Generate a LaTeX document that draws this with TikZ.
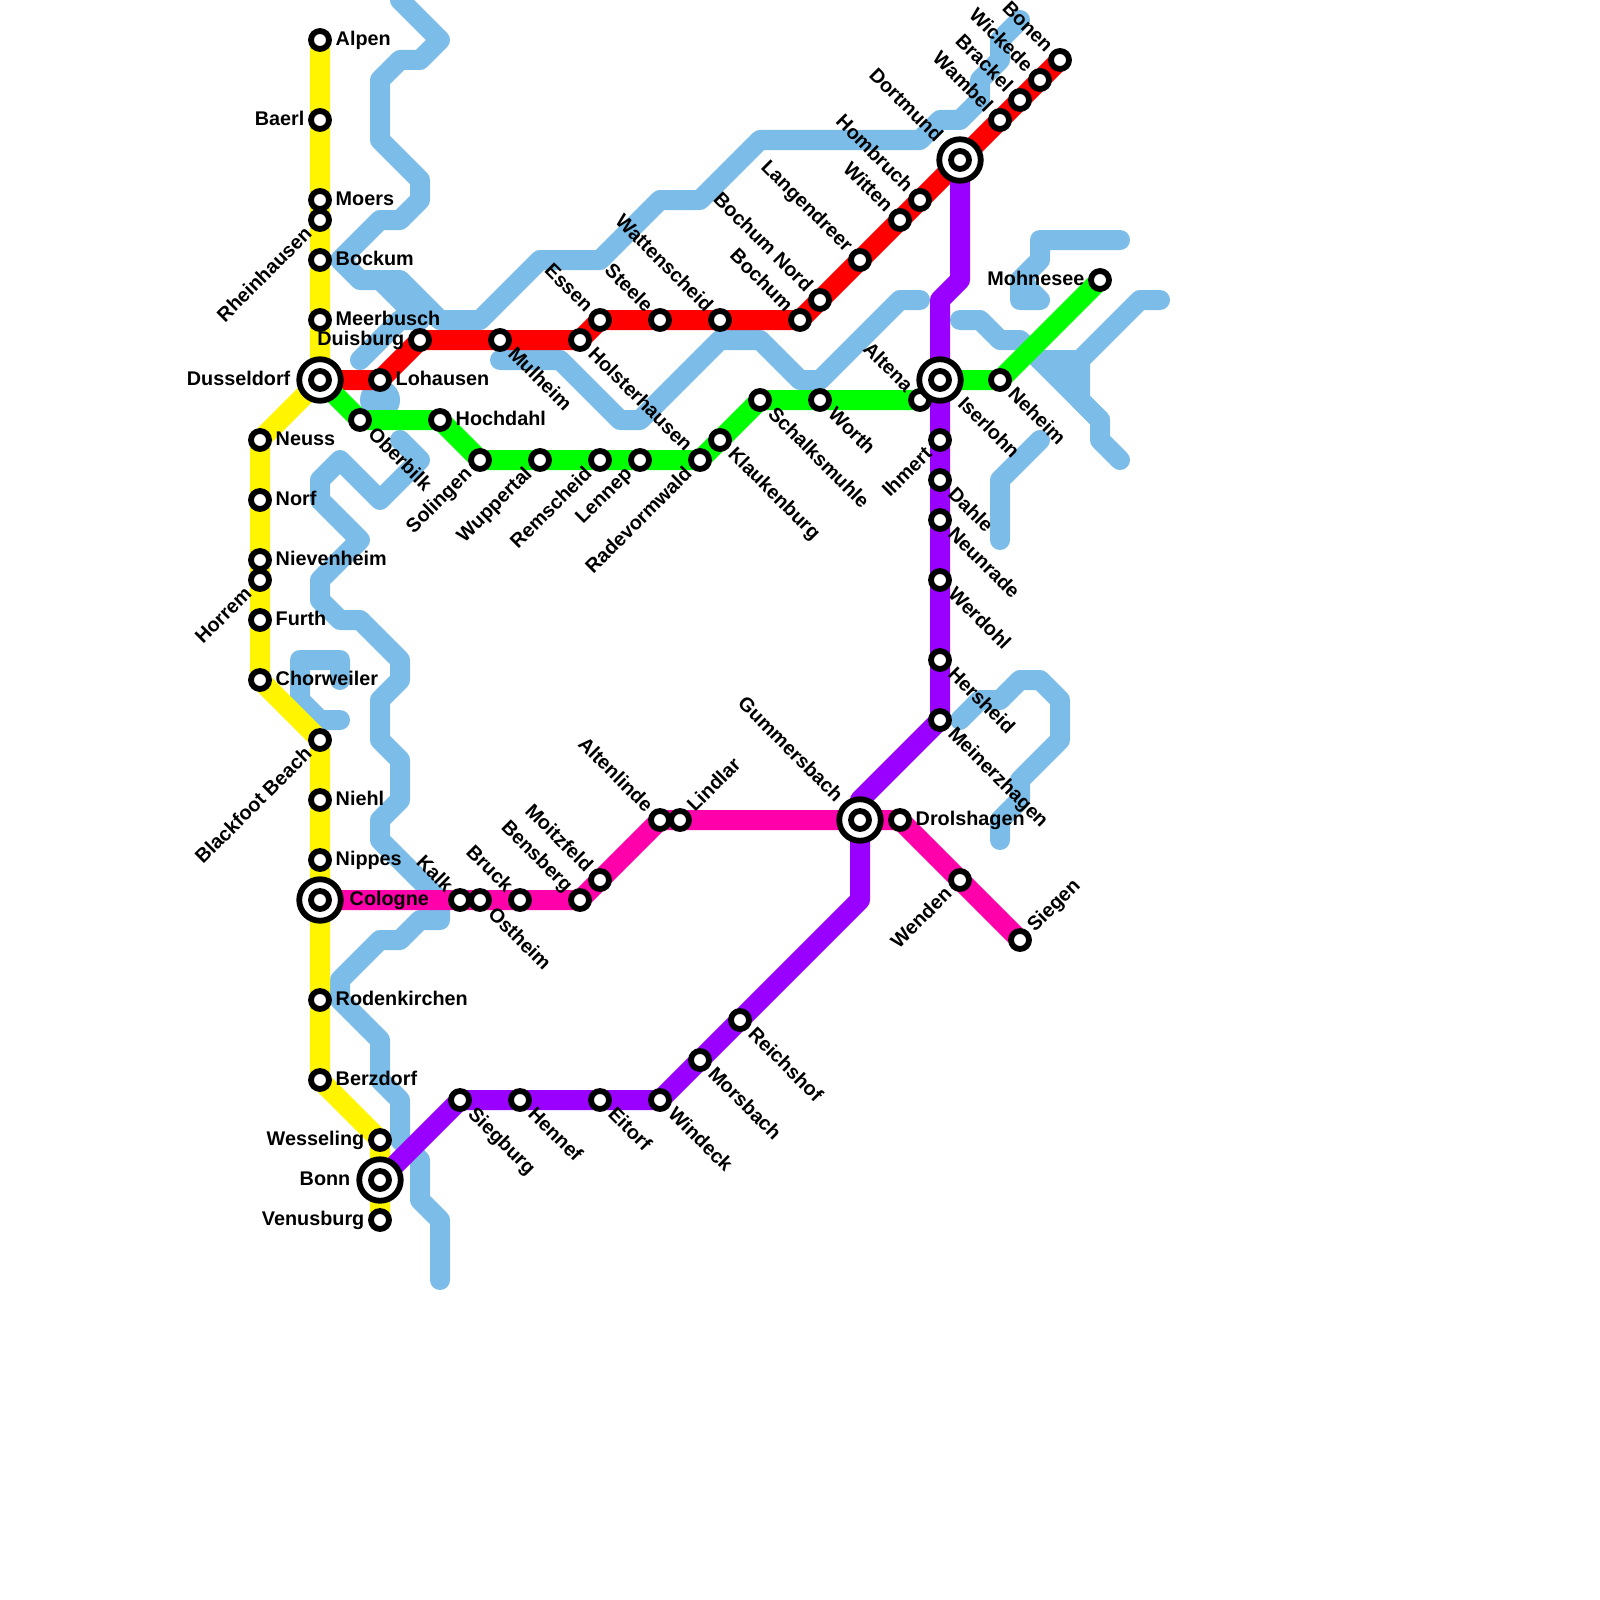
\documentclass[tikz,border=0pt]{standalone}
\usepackage{fontspec}
\setmainfont{Liberation Sans}
\pgfdeclarelayer{waterlayer}
\pgfdeclarelayer{linelayer}
\pgfsetlayers{waterlayer,linelayer,main}
\definecolor{waterc}{HTML}{7BBDE8}
\definecolor{lyellow}{HTML}{FFF500}
\definecolor{lred}{HTML}{FF0000}
\definecolor{lgreen}{HTML}{00FF00}
\definecolor{lpurple}{HTML}{9900FF}
\definecolor{lpink}{HTML}{FF00AA}
\tikzset{
  x=1pt,y=-1pt,
  water/.style={draw=waterc,line width=20pt,line cap=round,line join=round},
  metro/.style={line width=20pt,line cap=round,line join=round},
  station/.style={circle,draw=black,fill=white,line width=5.8pt,minimum size=18pt,inner sep=0pt},
  bigring/.style={circle,draw=black,fill=white,line width=5.8pt,minimum size=41.5pt,inner sep=0pt},
  lab/.style={font=\fontsize{19.8}{22}\selectfont\bfseries,inner sep=0pt,text=black},
  lR/.style={lab,anchor=base west,xshift=#1,yshift=-5.7pt},
  lL/.style={lab,anchor=base east,xshift=-#1,yshift=-5.7pt},
  lDR/.style={lab,rotate=-45,anchor=base west,xshift=#1,yshift=-5.7pt},
  lUL/.style={lab,rotate=-45,anchor=base east,xshift=-#1,yshift=-5.7pt},
  lUR/.style={lab,rotate=45,anchor=base west,xshift=#1,yshift=-5.7pt},
  lDL/.style={lab,rotate=45,anchor=base east,xshift=-#1,yshift=-5.7pt},
}
\newcommand{\stn}[5]{\node[station] (#1) at (#2,#3) {}; \node[#4=15.5pt] (#1-l) at (#1) {#5};}
\newcommand{\hub}[5]{\node[bigring] (#1-r) at (#2,#3) {}; \node[station] (#1) at (#2,#3) {}; \node[#4=29.5pt] (#1-l) at (#1) {#5};}
\begin{document}
\begin{tikzpicture}
\useasboundingbox (0,0) rectangle (1600,1600);
% stations: yellow
\stn{alpen}{320}{40}{lR}{Alpen}
\stn{baerl}{320}{120}{lL}{Baerl}
\stn{moers}{320}{200}{lR}{Moers}
\stn{rhein}{320}{220}{lDL}{Rheinhausen}
\stn{bockum}{320}{260}{lR}{Bockum}
\stn{meer}{320}{320}{lR}{Meerbusch}
\hub{duss}{320}{380}{lL}{Dusseldorf}
\stn{neuss}{260}{440}{lR}{Neuss}
\stn{norf}{260}{500}{lR}{Norf}
\stn{niev}{260}{560}{lR}{Nievenheim}
\stn{horrem}{260}{580}{lDL}{Horrem}
\stn{furth}{260}{620}{lR}{Furth}
\stn{chor}{260}{680}{lR}{Chorweiler}
\stn{black}{320}{740}{lDL}{Blackfoot Beach}
\stn{niehl}{320}{800}{lR}{Niehl}
\stn{nippes}{320}{860}{lR}{Nippes}
\hub{cologne}{320}{900}{lR}{Cologne}
\stn{roden}{320}{1000}{lR}{Rodenkirchen}
\stn{berz}{320}{1080}{lR}{Berzdorf}
\stn{wess}{380}{1140}{lL}{Wesseling}
\hub{bonn}{380}{1180}{lL}{Bonn}
\stn{venus}{380}{1220}{lL}{Venusburg}
% red
\stn{lohausen}{380}{380}{lR}{Lohausen}
\stn{duisburg}{420}{340}{lL}{Duisburg}
\stn{mulheim}{500}{340}{lDR}{Mulheim}
\stn{holster}{580}{340}{lDR}{Holsterhausen}
\stn{essen}{600}{320}{lUL}{Essen}
\stn{steele}{660}{320}{lUL}{Steele}
\stn{watten}{720}{320}{lUL}{Wattenscheid}
\stn{bochum}{800}{320}{lUL}{Bochum}
\stn{bochumn}{820}{300}{lUL}{Bochum Nord}
\stn{langen}{860}{260}{lUL}{Langendreer}
\stn{witten}{900}{220}{lUL}{Witten}
\stn{hombruch}{920}{200}{lUL}{Hombruch}
\hub{dortmund}{960}{160}{lUL}{Dortmund}
\stn{wambel}{1000}{120}{lUL}{Wambel}
\stn{brackel}{1020}{100}{lUL}{Brackel}
\stn{wickede}{1040}{80}{lUL}{Wickede}
\stn{bonen}{1060}{60}{lUL}{Bonen}
% green
\stn{oberbilk}{360}{420}{lDR}{Oberbilk}
\stn{hochdahl}{440}{420}{lR}{Hochdahl}
\stn{solingen}{480}{460}{lDL}{Solingen}
\stn{wupper}{540}{460}{lDL}{Wuppertal}
\stn{rems}{600}{460}{lDL}{Remscheid}
\stn{lennep}{640}{460}{lDL}{Lennep}
\stn{rade}{700}{460}{lDL}{Radevormwald}
\stn{klauk}{720}{440}{lDR}{Klaukenburg}
\stn{schalk}{760}{400}{lDR}{Schalksmuhle}
\stn{worth}{820}{400}{lDR}{Worth}
\stn{altena}{920}{400}{lUL}{Altena}
\hub{iser}{940}{380}{lDR}{Iserlohn}
\stn{neheim}{1000}{380}{lDR}{Neheim}
\stn{mohne}{1100}{280}{lL}{Mohnesee}
% purple
\stn{ihmert}{940}{440}{lDL}{Ihmert}
\stn{dahle}{940}{480}{lDR}{Dahle}
\stn{neun}{940}{520}{lDR}{Neunrade}
\stn{werdohl}{940}{580}{lDR}{Werdohl}
\stn{hers}{940}{660}{lDR}{Hersheid}
\stn{meiner}{940}{720}{lDR}{Meinerzhagen}
\hub{gummers}{860}{820}{lUL}{Gummersbach}
\stn{reichs}{740}{1020}{lDR}{Reichshof}
\stn{morsb}{700}{1060}{lDR}{Morsbach}
\stn{windeck}{660}{1100}{lDR}{Windeck}
\stn{eitorf}{600}{1100}{lDR}{Eitorf}
\stn{hennef}{520}{1100}{lDR}{Hennef}
\stn{siegb}{460}{1100}{lDR}{Siegburg}
% pink
\stn{kalk}{460}{900}{lUL}{Kalk}
\stn{ostheim}{480}{900}{lDR}{Ostheim}
\stn{bruck}{520}{900}{lUL}{Bruck}
\stn{bensb}{580}{900}{lUL}{Bensberg}
\stn{moitz}{600}{880}{lUL}{Moitzfeld}
\stn{altenl}{660}{820}{lUL}{Altenlinde}
\stn{lindlar}{680}{820}{lUR}{Lindlar}
\stn{drol}{900}{820}{lR}{Drolshagen}
\stn{wenden}{960}{880}{lDL}{Wenden}
\stn{siegen}{1020}{940}{lUR}{Siegen}
\coordinate (pb1) at (960,280);
\coordinate (pb2) at (940,300);
\coordinate (pb0) at (860,800);
\coordinate (pb3) at (860,900);
\begin{pgfonlayer}{waterlayer}
\draw[water] (400,0) -- (440,40) -- (420,60) -- (400,60) -- (380,80) -- (380,140) -- (420,180) -- (420,200) -- (400,220) -- (380,220) -- (340,260) -- (360,280) -- (400,280) -- (440,320) -- (480,320) -- (540,260) -- (600,260) -- (660,200) -- (700,200) -- (760,140) -- (920,140) -- (940,120) -- (960,120) -- (980,100) -- (980,80) -- (1000,60) -- (1000,40) -- (1020,20);
\draw[water] (380,280) -- (420,320) -- (400,320) -- (360,360);
\fill[waterc] (380,400) circle[radius=20];
\draw[water] (500,360) -- (560,360) -- (620,420) -- (640,420) -- (720,340) -- (760,340) -- (800,380) -- (820,380) -- (900,300) -- (920,300);
\draw[water] (400,440) -- (420,460) -- (380,500) -- (340,460) -- (320,480) -- (320,500) -- (360,540) -- (320,580) -- (320,600) -- (340,620) -- (360,620) -- (400,660) -- (400,680) -- (380,700) -- (380,740) -- (400,760) -- (400,800) -- (380,820) -- (380,840) -- (440,900) -- (440,920) -- (420,920) -- (400,940) -- (380,940) -- (340,980) -- (340,1000) -- (380,1040) -- (380,1080) -- (400,1100) -- (400,1140) -- (420,1160) -- (420,1200) -- (440,1220) -- (440,1280);
\draw[water] (340,680) -- (340,660) -- (300,660) -- (300,700) -- (320,720) -- (340,720);
\draw[water] (1120,240) -- (1040,240) -- (1040,260) -- (1020,280) -- (1020,300) -- (1040,300) -- (1020,280);
\draw[water] (960,320) -- (980,320) -- (1000,340) -- (1020,340) -- (1040,360) -- (1080,360) -- (1140,300) -- (1160,300);
\draw[water] (1040,360) -- (1100,420) -- (1100,440) -- (1120,460);
\draw[water] (1080,360) -- (1080,400) -- (1100,420);
\fill[waterc] (1040,360) -- (1080,360) -- (1080,400) -- cycle;
\draw[water] (1040,440) -- (1000,480) -- (1000,540);
\draw[water] (960,720) -- (980,700) -- (1000,700) -- (1020,680) -- (1040,680) -- (1060,700) -- (1060,740) -- (1020,780) -- (1020,800) -- (1000,820) -- (1000,840);
\end{pgfonlayer}
\begin{pgfonlayer}{linelayer}
\draw[metro,draw=lyellow] (alpen.center) -- (baerl.center) -- (moers.center) -- (rhein.center) -- (bockum.center) -- (meer.center) -- (duss.center) -- (neuss.center) -- (norf.center) -- (niev.center) -- (horrem.center) -- (furth.center) -- (chor.center) -- (black.center) -- (niehl.center) -- (nippes.center) -- (cologne.center) -- (roden.center) -- (berz.center) -- (wess.center) -- (bonn.center) -- (venus.center);
\draw[metro,draw=lred] (duss.center) -- (lohausen.center) -- (duisburg.center) -- (mulheim.center) -- (holster.center) -- (essen.center) -- (steele.center) -- (watten.center) -- (bochum.center) -- (bochumn.center) -- (langen.center) -- (witten.center) -- (hombruch.center) -- (dortmund.center) -- (wambel.center) -- (brackel.center) -- (wickede.center) -- (bonen.center);
\draw[metro,draw=lgreen] (duss.center) -- (oberbilk.center) -- (hochdahl.center) -- (solingen.center) -- (wupper.center) -- (rems.center) -- (lennep.center) -- (rade.center) -- (klauk.center) -- (schalk.center) -- (worth.center) -- (altena.center) -- (iser.center) -- (neheim.center) -- (mohne.center);
\draw[metro,draw=lpurple] (dortmund.center) -- (pb1) -- (pb2) -- (iser.center) -- (ihmert.center) -- (dahle.center) -- (neun.center) -- (werdohl.center) -- (hers.center) -- (meiner.center) -- (pb0) -- (gummers.center) -- (pb3) -- (reichs.center) -- (morsb.center) -- (windeck.center) -- (eitorf.center) -- (hennef.center) -- (siegb.center) -- (bonn.center);
\draw[metro,draw=lpink] (cologne.center) -- (kalk.center) -- (ostheim.center) -- (bruck.center) -- (bensb.center) -- (moitz.center) -- (altenl.center) -- (lindlar.center) -- (gummers.center) -- (drol.center) -- (wenden.center) -- (siegen.center);
\end{pgfonlayer}
\end{tikzpicture}
\end{document}
